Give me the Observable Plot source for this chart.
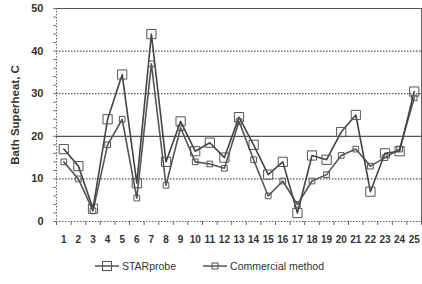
<!DOCTYPE html>
<html><head><meta charset="utf-8">
<script src="https://cdn.jsdelivr.net/npm/d3@7"></script>
<script src="https://cdn.jsdelivr.net/npm/@observablehq/plot@0.6"></script>
<style>
body{margin:0;background:#fff;font-family:"Liberation Sans",Arial,sans-serif;}
#legend{display:flex;justify-content:center;gap:26px;font-size:10.5px;color:#333;margin-top:8px;padding-right:4px}
#legend span{display:flex;align-items:center;gap:2px}
</style></head><body>
<div id="chart"></div>
<div id="legend"></div>
<script>
const samples = [1,2,3,4,5,6,7,8,9,10,11,12,13,14,15,16,17,18,19,20,21,22,23,24,25];
const starprobe = [17,13,3,24,34.5,9,44,14,23.5,16.5,18.5,15,24.5,18,11,14,2,15.5,14.5,21,25,7,16,16.5,30.5];
const commercial = [14,10,2.5,18,24,5.5,37,8.5,22,14,13.5,12.5,23.5,14.5,6,9.5,4,9.5,11,15.5,17,13,15,17,29];
const seriesNames = ["STARprobe","Commercial method"];
const yTicks = [0,10,20,30,40,50];

const starRows = samples.map((s,i)=>({x:s,y:starprobe[i]}));
const comRows = samples.map((s,i)=>({x:s,y:commercial[i]}));
const minorY = d3.range(0,50.01,2);
const catEdges = d3.range(0.5,25.51,1);

const chart = Plot.plot({
  width:422, height:252,
  marginLeft:56, marginRight:1, marginTop:8, marginBottom:31,
  style:{fontFamily:"Liberation Sans, Arial, sans-serif", fontSize:"10px", color:"#333", background:"#fff"},
  x:{domain:[0.5,25.5], axis:null},
  y:{domain:[0,50], axis:null},
  marks:[
    Plot.ruleY([10,30,40],{stroke:"#555",strokeWidth:1.2,strokeDasharray:"1.5,1.5"}),
    Plot.ruleY([20,50],{stroke:"#555",strokeWidth:1.2}),
    Plot.ruleX([25.5],{stroke:"#666",strokeWidth:1}),
    Plot.ruleX([0.5],{stroke:"#666",strokeWidth:1,strokeDasharray:"1.5,1.5"}),
    Plot.ruleY([0],{stroke:"#666",strokeWidth:1.2,strokeDasharray:"1.5,1.5"}),
    Plot.axisY({ticks:minorY, tickSize:3, text:null, stroke:"#777", label:null}),
    Plot.axisY({ticks:yTicks, tickSize:0, tickPadding:13, fontWeight:"bold", fill:"#333", fontSize:11, label:null}),
    Plot.axisX({ticks:catEdges, tickSize:4, text:null, stroke:"#666", label:null}),
    Plot.axisX({ticks:samples, tickFormat:d=>d, tickSize:0, tickPadding:14, fontWeight:"bold", fill:"#333", fontSize:10, label:null}),
    Plot.line(comRows,{x:"x",y:"y",stroke:"#555",strokeWidth:1.6}),
    Plot.line(starRows,{x:"x",y:"y",stroke:"#444",strokeWidth:1.6}),
    Plot.dot(comRows,{x:"x",y:"y",symbol:"square",r:3.2,stroke:"#555",fill:"none",strokeWidth:1}),
    Plot.dot(starRows,{x:"x",y:"y",symbol:"square",r:5.2,stroke:"#555",fill:"none",strokeWidth:1}),
    Plot.text(["Bath Superheat, C"],{frameAnchor:"left",dx:-41,rotate:-90,textAnchor:"middle",fontWeight:"bold",fontSize:11.5,fill:"#333"})
  ]
});
document.getElementById("chart").appendChild(chart);

const lg = document.getElementById("legend");
const mk = (sz)=>`<svg width="26" height="12"><line x1="1" x2="25" y1="6" y2="6" stroke="#555" stroke-width="1.5"/><rect x="${13-sz/2}" y="${6-sz/2}" width="${sz}" height="${sz}" fill="none" stroke="#555"/></svg>`;
lg.innerHTML = `<span>${mk(9)}${seriesNames[0]}</span><span>${mk(6)}${seriesNames[1]}</span>`;
</script></body></html>
